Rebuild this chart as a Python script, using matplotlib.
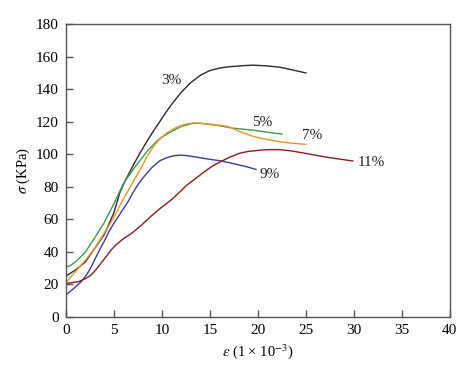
import numpy as np
import matplotlib
matplotlib.use("Agg")
import matplotlib.pyplot as plt

plt.rcParams['font.family'] = ['Liberation Serif', 'DejaVu Serif']
plt.rcParams['mathtext.fontset'] = 'stix'

# strain (1e-3) and stress (KPa)
eps_3 = [0, 1, 2, 3, 4, 5, 5.6, 6, 7, 7.7, 8.5, 9.1, 10, 10.45, 11, 12, 13, 14, 15, 16, 17, 18.5, 19.5, 21, 22.3, 23.5, 25]
sig_3 = [25, 28.7, 33.5, 42, 50.5, 64, 76, 81.5, 93, 100.5, 108.5, 114, 122, 126, 130.5, 138, 144, 148.5, 151.5, 153, 153.8, 154.5, 154.8, 154.3, 153.5, 152, 150]

eps_5 = [0, 0.5, 1, 1.5, 2, 3, 4, 5, 5.6, 6, 7, 7.7, 8.5, 9.4, 10, 11, 12, 13.2, 14, 15, 16, 17.4, 19.5, 21, 22.5]
sig_5 = [30.4, 31.5, 33.8, 36.5, 39.5, 48.5, 58, 69.5, 77, 82, 90.5, 96, 102, 107.6, 110.5, 114, 117, 119, 119, 118.3, 117.5, 116, 114.8, 113.5, 112.4]

eps_7 = [0, 1, 2, 3, 4, 5, 5.6, 6, 7, 7.7, 8.5, 9.1, 9.8, 10.5, 11.5, 12.5, 13.3, 14, 15, 16.7, 17.5, 18.5, 19.5, 20.5, 22.3, 23.5, 25]
sig_7 = [21, 27.7, 34.5, 42, 51.5, 61, 68, 72.5, 83, 90, 99, 104.5, 109.5, 113, 116.5, 118.6, 119.2, 119, 118.5, 117.3, 115.5, 113, 111, 109.5, 107.6, 106.8, 106]

eps_9 = [0, 0.5, 1, 1.5, 2, 2.5, 3, 3.5, 4, 4.5, 5, 5.9, 6.5, 7, 7.7, 8.4, 9, 9.8, 10.5, 11.2, 11.9, 12.5, 13.5, 14.5, 16, 17, 18.1, 19, 19.8]
sig_9 = [13.3, 15.8, 18.3, 21, 24.5, 29, 35, 41, 46.5, 52.5, 57.5, 65.6, 71, 76.5, 83, 88, 92, 96, 97.8, 99, 99.4, 99.2, 98.3, 97.3, 96, 94.8, 93.3, 92, 90.6]

eps_11 = [0, 0.7, 1.4, 2.1, 2.6, 3.1, 3.6, 4.2, 4.7, 5.2, 6, 6.9, 8, 8.9, 9.8, 11, 12, 12.6, 13.5, 14.5, 15.3, 16, 17, 18.1, 19, 20, 21, 22.3, 23.5, 24.5, 25.8, 27, 28.5, 29.9]
sig_11 = [20.5, 21, 21.7, 23.6, 25.5, 28.7, 32.5, 37, 41, 44.1, 48, 51.5, 57, 62, 66.5, 72, 77.5, 81, 85, 89.5, 92.8, 95, 98, 100.6, 101.7, 102.3, 102.8, 102.8, 102, 101, 99.6, 98.3, 97, 95.8]

labels = ['3%', '5%', '7%', '9%', '11%']
label_pos = [(11.0, 145.5), (20.4, 119.3), (25.7, 111.7), (21.25, 87.8), (31.8, 95)]
colors = ['#2a2a2a', '#3e9a4e', '#e8942c', '#3b3b9c', '#8c1c1c']

fig = plt.figure(figsize=(4.74, 3.75), dpi=100)
ax = fig.add_axes([0.139, 0.1555, 0.81, 0.78])

series = [(eps_3, sig_3), (eps_5, sig_5), (eps_7, sig_7), (eps_9, sig_9), (eps_11, sig_11)]
for (x, y), c in zip(series, colors):
    ax.plot(x, y, color=c, lw=1.0)
for t, (x, y) in zip(labels, label_pos):
    ax.text(x, y, t, fontsize=11, ha='center', va='center', color='#222222')

ax.set_xlim(0, 40)
ax.set_ylim(0, 180)
ax.set_xticks(np.arange(0, 41, 5))
ax.set_yticks(np.arange(0, 181, 20))
ax.tick_params(direction='in', length=5, width=1, color='#555555', labelsize=11,
               top=False, right=False, pad=5)
for s in ax.spines.values():
    s.set_color('#555555')
    s.set_linewidth(1.0)

ax.set_xlabel(r'$\varepsilon$ (1 × 10$^{-3}$)', fontsize=10.5, labelpad=4)
ax.set_ylabel(r'$\sigma$ (KPa)', fontsize=10.5, labelpad=3)

fig.savefig('out.png', dpi=100)
